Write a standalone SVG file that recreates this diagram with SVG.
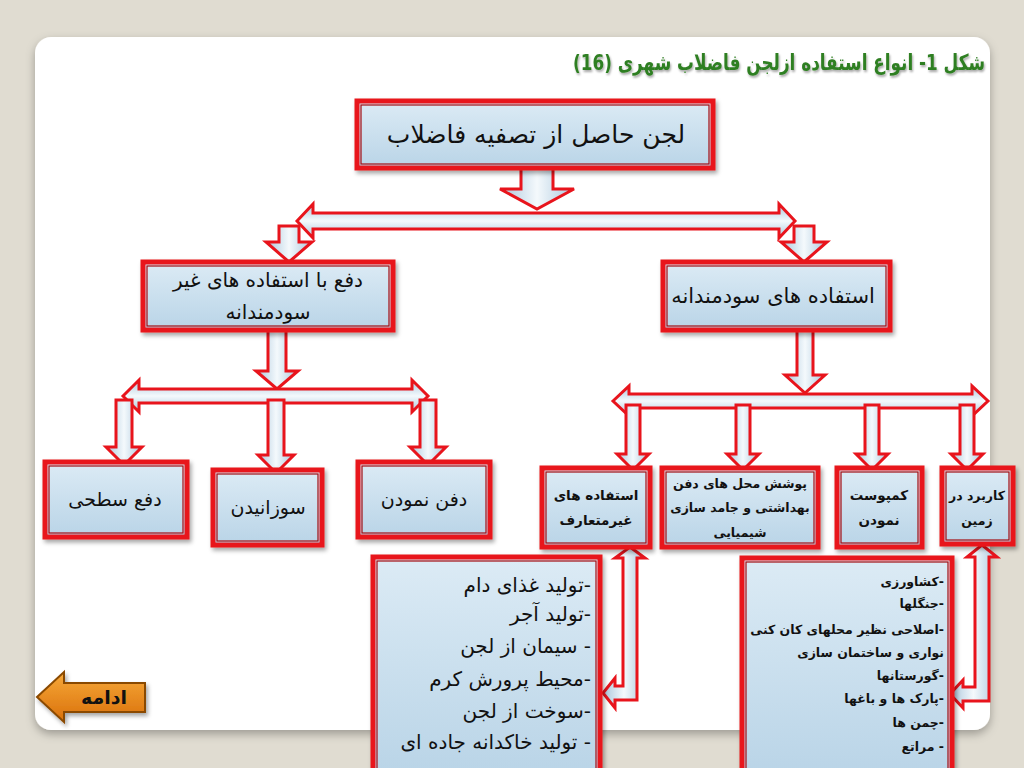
<svg xmlns="http://www.w3.org/2000/svg" width="1024" height="768" viewBox="0 0 1024 768">
<defs>
<linearGradient id="boxG" x1="0" y1="0" x2="0" y2="1">
<stop offset="0" stop-color="#dcebf5"/><stop offset="1" stop-color="#b9d4e7"/>
</linearGradient>
<linearGradient id="arrV" x1="0" y1="0" x2="1" y2="0">
<stop offset="0" stop-color="#a9c6dc"/><stop offset="0.5" stop-color="#f4f9fc"/><stop offset="1" stop-color="#a9c6dc"/>
</linearGradient>
<linearGradient id="arrH" x1="0" y1="0" x2="0" y2="1">
<stop offset="0" stop-color="#a9c6dc"/><stop offset="0.5" stop-color="#f4f9fc"/><stop offset="1" stop-color="#a9c6dc"/>
</linearGradient>
<linearGradient id="orG" x1="0" y1="0" x2="0" y2="1">
<stop offset="0" stop-color="#f7a93a"/><stop offset="1" stop-color="#d9700a"/>
</linearGradient>
<filter id="sh" x="-10%" y="-10%" width="130%" height="130%">
<feDropShadow dx="2" dy="3" stdDeviation="2" flood-color="#000" flood-opacity="0.35"/>
</filter>
<filter id="cardSh" x="-5%" y="-5%" width="110%" height="115%">
<feDropShadow dx="0" dy="4" stdDeviation="5" flood-color="#000" flood-opacity="0.3"/>
</filter>
<filter id="tsh" x="-5%" y="-20%" width="110%" height="150%">
<feDropShadow dx="1" dy="2" stdDeviation="1" flood-color="#000" flood-opacity="0.35"/>
</filter>
</defs>
<style>
.box{fill:url(#boxG);stroke:#e8141c;stroke-width:5;filter:url(#sh)}
.inner{fill:none;stroke:#a30a10;stroke-width:1.2}
.av{fill:url(#arrV);stroke:#e8141c;stroke-width:3;stroke-linejoin:miter}
.ah{fill:url(#arrH);stroke:#e8141c;stroke-width:3;stroke-linejoin:miter}
.t{font-family:"DejaVu Sans",sans-serif;fill:#111}
.big{font-size:25px}
.mid{font-size:20px}
.mid2{font-size:21px}
.bx{font-size:19px}
.sm{font-size:12.5px;font-weight:bold}
.sm2{font-size:13.5px;font-weight:bold}
.list{font-size:20px}
.lst2{font-size:12.5px;font-weight:bold}
</style>
<rect width="1024" height="768" fill="#e0dcd1"/>
<rect x="35" y="37" width="955" height="693" rx="16" fill="#ffffff" filter="url(#cardSh)"/>
<text x="985" y="70" direction="rtl" text-anchor="start" font-family="DejaVu Sans,sans-serif" font-size="22" font-weight="bold" fill="#2f7f22" filter="url(#tsh)" textLength="412" lengthAdjust="spacingAndGlyphs">شکل 1- انواع استفاده ازلجن فاضلاب شهری (16)</text>

<g id="connectors">
<polygon class="av" points="521,168 553,168 553,189 574,189 537,209 500,189 521,189"/>
<polygon class="ah" points="297,221 313,204 313,213 779,213 779,204 795,221 779,238 779,229 313,229 313,238"/>
<polygon class="av" points="279,226 299,226 299,242 312,242 289,262 266,242 279,242"/>
<polygon class="av" points="794,226 814,226 814,242 827,242 804,262 781,242 794,242"/>
<polygon class="av" points="268,330 286,330 286,371 298,371 277,389 256,371 268,371"/>
<polygon class="ah" points="123,396 139,380 139,389 412,389 412,380 428,396 412,412 412,403 139,403 139,412"/>
<polygon class="av" points="116,400 132,400 132,447 142,447 124,465 106,447 116,447"/>
<polygon class="av" points="268,400 284,400 284,455 294,455 276,473 258,455 268,455"/>
<polygon class="av" points="420,400 436,400 436,447 446,447 428,465 410,447 420,447"/>
<polygon class="av" points="797,330 813,330 813,375 825,375 805,393 785,375 797,375"/>
<polygon class="ah" points="613,401 629,386 629,394 972,394 972,386 988,401 972,416 972,408 629,408 629,416"/>
<polygon class="av" points="626,405 640,405 640,454 649,454 633,470 617,454 626,454"/>
<polygon class="av" points="736,405 750,405 750,454 759,454 743,470 727,454 736,454"/>
<polygon class="av" points="865,405 879,405 879,454 888,454 872,470 856,454 865,454"/>
<polygon class="av" points="960,405 974,405 974,454 983,454 967,470 951,454 960,454"/>
<path class="av" d="M630,547 L645,558 L637,558 L637,700 L615,700 L615,708 L603,693 L615,678 L615,686 L623,686 L623,558 L615,558 Z"/>
<path class="av" d="M982,545 L997,557 L989,557 L989,701 L963,701 L963,708 L950,694 L963,680 L963,687 L975,687 L975,557 L967,557 Z"/>
</g>

<g id="n-root">
<rect class="box" x="357" y="101" width="356" height="67"/>
<rect class="inner" x="361" y="105" width="348" height="59"/>
<text class="t big" x="536" y="143" text-anchor="middle">لجن حاصل از تصفیه فاضلاب</text>
</g>
<g id="n-nonbeneficial">
<rect class="box" x="143" y="262" width="250" height="68"/>
<rect class="inner" x="147" y="266" width="242" height="60"/>
<text class="t mid" x="268" y="287" text-anchor="middle">دفع با استفاده های غیر</text>
<text class="t mid" x="268" y="319" text-anchor="middle">سودمندانه</text>
</g>
<g id="n-beneficial">
<rect class="box" x="663" y="262" width="227" height="68"/>
<rect class="inner" x="667" y="266" width="219" height="60"/>
<text class="t mid2" x="773" y="303" text-anchor="middle">استفاده های سودمندانه</text>
</g>
<g id="n-surface">
<rect class="box" x="45" y="462" width="142" height="75"/>
<rect class="inner" x="49" y="466" width="134" height="67"/>
<text class="t bx" x="115" y="506" text-anchor="middle">دفع سطحی</text>
</g>
<g id="n-incinerate">
<rect class="box" x="213" y="470" width="109" height="75"/>
<rect class="inner" x="217" y="474" width="101" height="67"/>
<text class="t bx" x="268" y="514" text-anchor="middle">سوزانیدن</text>
</g>
<g id="n-bury">
<rect class="box" x="358" y="462" width="132" height="75"/>
<rect class="inner" x="362" y="466" width="124" height="67"/>
<text class="t bx" x="424" y="506" text-anchor="middle">دفن  نمودن</text>
</g>
<g id="n-unconventional">
<rect class="box" x="542" y="468" width="108" height="79"/>
<rect class="inner" x="546" y="472" width="100" height="71"/>
<text class="t sm2" x="596" y="500" text-anchor="middle">استفاده های</text>
<text class="t sm2" x="596" y="525" text-anchor="middle">غیرمتعارف</text>
</g>
<g id="n-cover">
<rect class="box" x="662" y="468" width="156" height="79"/>
<rect class="inner" x="666" y="472" width="148" height="71"/>
<text class="t sm" x="740" y="488" text-anchor="middle">پوشش محل های دفن</text>
<text class="t sm" x="740" y="512" text-anchor="middle">بهداشتی و جامد سازی</text>
<text class="t sm" x="740" y="537" text-anchor="middle">شیمیایی</text>
</g>
<g id="n-compost">
<rect class="box" x="837" y="468" width="85" height="79"/>
<rect class="inner" x="841" y="472" width="77" height="71"/>
<text class="t sm2" x="879" y="500" text-anchor="middle">کمپوست</text>
<text class="t sm2" x="879" y="525" text-anchor="middle">نمودن</text>
</g>
<g id="n-land">
<rect class="box" x="942" y="468" width="71" height="76"/>
<rect class="inner" x="946" y="472" width="63" height="68"/>
<text class="t sm" x="977" y="500" text-anchor="middle">کاربرد در</text>
<text class="t sm" x="977" y="525" text-anchor="middle">زمین</text>
</g>
<g id="n-list-left">
<rect class="box" x="373" y="557" width="227" height="220"/>
<rect class="inner" x="377" y="561" width="219" height="212"/>
<g class="t list" direction="rtl" text-anchor="start">
<text x="591" y="592">-تولید غذای دام</text>
<text x="591" y="621">-تولید آجر</text>
<text x="591" y="653">- سیمان از لجن</text>
<text x="591" y="686">-محیط پرورش کرم</text>
<text x="591" y="718">-سوخت از لجن</text>
<text x="591" y="749">- تولید خاکدانه جاده ای</text>
</g>
</g>
<g id="n-list-right">
<rect class="box" x="742" y="558" width="210" height="220"/>
<rect class="inner" x="746" y="562" width="202" height="212"/>
<g class="t lst2" direction="rtl" text-anchor="start">
<text x="944" y="586">-کشاورزی</text>
<text x="944" y="608">-جنگلها</text>
<text x="944" y="634">-اصلاحی نظیر محلهای کان کنی</text>
<text x="944" y="657">نواری و ساختمان سازی</text>
<text x="944" y="680">-گورستانها</text>
<text x="944" y="703">-پارک ها و باغها</text>
<text x="944" y="727">-چمن ها</text>
<text x="944" y="751">- مراتع</text>
</g>
</g>
<g id="n-next">
<path d="M37,697 L64,672 L64,683 L145,683 L145,712 L64,712 L64,722 Z" fill="url(#orG)" stroke="#8a4a00" stroke-width="2" filter="url(#sh)"/>
<text class="t" x="104" y="704" text-anchor="middle" font-size="19" font-weight="bold">ادامه</text>
</g>
</svg>
